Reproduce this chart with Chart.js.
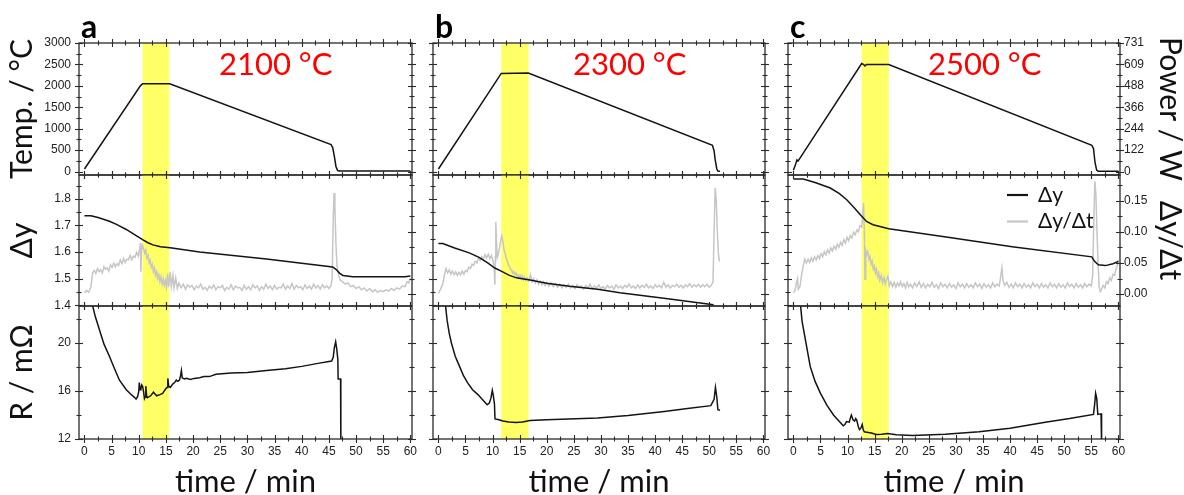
<!DOCTYPE html>
<html>
<head>
<meta charset="utf-8">
<script src="https://cdn.jsdelivr.net/npm/chart.js@4.4.1/dist/chart.umd.min.js"></script>
<style>
  html, body { margin: 0; padding: 0; background: #fff; overflow: hidden; }
  #fig { position: relative; width: 1184px; height: 495px; }
  #fig canvas { position: absolute; }
</style>
</head>
<body>
<div id="fig"></div>
<script>
// ---- data: [time / min, value] ----
const tempA = [[0,60],[10.3,2000],[10.7,2048],[15.7,2048],[45.4,630],[45.7,560],[46.0,360],[46.3,120],[46.6,25],[47.0,14],[60,14]];
const tempB = [[0,60],[10.1,2000],[10.4,2060],[11.6,2290],[16.6,2298],[50.6,615],[50.9,480],[51.1,280],[51.4,60],[51.6,15],[52.0,10]];
const tempC = [[0,30],[0.45,190],[0.65,270],[0.85,245],[12.6,2520],[13.0,2495],[13.2,2465],[13.5,2500],[17.6,2500],[55.1,613],[55.4,540],[55.7,200],[56.0,30],[56.3,8],[60,8]];

const dyA = [[0,1.737],[1.2,1.737],[2.5,1.73],[4.6,1.716],[6,1.703],[7.7,1.685],[9.3,1.665],[10.7,1.647],[11.7,1.635],[12.6,1.627],[14,1.62],[15.8,1.616],[21.2,1.60],[33.5,1.574],[45.7,1.544],[46.3,1.535],[47,1.52],[47.6,1.512],[49.4,1.507],[59,1.507],[60,1.51]];
const dyB = [[0,1.632],[0.8,1.632],[3,1.615],[5.7,1.597],[7.5,1.58],[9.1,1.559],[10.4,1.54],[11.6,1.528],[13,1.513],[14.4,1.503],[16.9,1.495],[20,1.483],[24.2,1.471],[29.4,1.46],[33.5,1.447],[42,1.425],[50.8,1.402]];
const dyC = [[0,1.875],[1.8,1.875],[4,1.862],[6.8,1.841],[8.5,1.82],[9.85,1.797],[11.3,1.765],[12.6,1.735],[13.5,1.715],[14.7,1.703],[17.6,1.688],[28.2,1.657],[40.4,1.62],[55.1,1.582],[55.6,1.565],[56.3,1.552],[57.6,1.549],[59,1.556],[60,1.565]];

const rateA = [[0,0.002],[0.4,0.006],[0.8,0.003],[1.2,0.012],[1.5,0.034],[1.8,0.038],[2.1,0.033],[2.4,0.041],[2.7,0.036],[3.0,0.039],[3.3,0.034],[3.6,0.044],[3.9,0.04],[4.2,0.042],[4.5,0.037],[4.8,0.047],[5.1,0.043],[5.4,0.05],[5.7,0.044],[6.0,0.049],[6.3,0.046],[6.6,0.055],[6.9,0.049],[7.2,0.057],[7.5,0.051],[7.8,0.056],[8.1,0.055],[8.4,0.062],[8.7,0.055],[9.0,0.061],[9.3,0.059],[9.6,0.067],[9.9,0.061],[10.15,0.072],[10.3,0.082],[10.38,0.036],[10.5,0.07],[10.7,0.078],[10.9,0.072],[11.1,0.066],[11.3,0.071],[11.5,0.058],[11.7,0.062],[11.9,0.05],[12.1,0.055],[12.3,0.043],[12.5,0.048],[12.7,0.036],[12.9,0.042],[13.1,0.03],[13.3,0.036],[13.5,0.025],[13.7,0.031],[13.9,0.02],[14.1,0.028],[14.3,0.016],[14.5,0.024],[14.7,0.014],[14.9,0.022],[15.1,0.012],[15.3,0.033],[15.5,0.011],[15.8,0.036],[16.0,0.012],[16.3,0.03],[16.5,0.01],[16.8,0.026],[17.1,0.009],[17.4,0.018],[17.8,0.01],[18.2,0.016],[18.6,0.008],[19.0,0.015],[19.4,0.011],[19.8,0.014],[20.2,0.007],[20.6,0.013],[21.0,0.01],[21.4,0.016],[21.8,0.008],[22.2,0.011],[22.6,0.006],[23.0,0.013],[23.4,0.009],[23.8,0.015],[24.2,0.007],[24.6,0.012],[25.0,0.01],[25.4,0.014],[25.8,0.006],[26.2,0.011],[26.6,0.008],[27.0,0.015],[27.4,0.007],[27.8,0.013],[28.2,0.01],[28.6,0.011],[29.0,0.006],[29.4,0.014],[29.8,0.008],[30.2,0.012],[30.6,0.007],[31.0,0.015],[31.4,0.01],[31.8,0.013],[32.2,0.006],[32.6,0.012],[33.0,0.008],[33.4,0.016],[33.8,0.009],[34.2,0.013],[34.6,0.007],[35.0,0.014],[35.4,0.008],[35.8,0.011],[36.2,0.01],[36.6,0.016],[37.0,0.008],[37.4,0.013],[37.8,0.009],[38.2,0.017],[38.6,0.008],[39.0,0.014],[39.4,0.01],[39.8,0.012],[40.2,0.007],[40.6,0.015],[41.0,0.009],[41.4,0.013],[41.8,0.008],[42.2,0.016],[42.6,0.01],[43.0,0.014],[43.4,0.008],[43.8,0.015],[44.2,0.01],[44.6,0.013],[45.0,0.009],[45.4,0.014],[45.6,0.025],[45.8,0.12],[45.95,0.162],[46.1,0.14],[46.3,0.08],[46.5,0.045],[46.8,0.03],[47.1,0.022],[47.5,0.02],[48,0.016],[48.5,0.018],[49,0.012],[49.5,0.014],[50,0.009],[50.5,0.012],[51,0.007],[51.5,0.01],[52,0.005],[52.5,0.009],[53,0.004],[53.5,0.007],[54,0.003],[54.5,0.006],[55,0.004],[55.5,0.007],[56,0.005],[56.5,0.009],[57,0.006],[57.5,0.01],[58,0.008],[58.5,0.013],[59,0.012],[59.4,0.02],[59.7,0.018],[60,0.026]];
const rateB = [[0,0.001],[0.4,0.008],[0.8,0.016],[1.1,0.03],[1.4,0.041],[1.7,0.034],[2.0,0.039],[2.3,0.032],[2.6,0.037],[2.9,0.031],[3.2,0.036],[3.5,0.03],[3.8,0.035],[4.1,0.031],[4.4,0.037],[4.7,0.032],[5.0,0.038],[5.3,0.036],[5.6,0.043],[5.9,0.041],[6.2,0.048],[6.5,0.046],[6.8,0.053],[7.1,0.05],[7.4,0.058],[7.7,0.054],[8.0,0.06],[8.3,0.056],[8.6,0.063],[8.9,0.058],[9.2,0.064],[9.5,0.057],[9.8,0.062],[10.1,0.052],[10.3,0.04],[10.42,0.015],[10.5,0.06],[10.6,0.116],[10.7,0.09],[10.85,0.058],[11.05,0.064],[11.3,0.075],[11.55,0.088],[11.7,0.093],[11.9,0.084],[12.1,0.072],[12.3,0.066],[12.5,0.058],[12.7,0.054],[12.9,0.047],[13.1,0.045],[13.3,0.04],[13.5,0.039],[13.7,0.034],[13.9,0.036],[14.1,0.031],[14.3,0.034],[14.5,0.028],[14.7,0.031],[14.9,0.026],[15.1,0.03],[15.3,0.025],[15.5,0.029],[15.7,0.023],[15.9,0.027],[16.1,0.022],[16.4,0.026],[16.7,0.021],[17.0,0.031],[17.3,0.02],[17.6,0.025],[17.9,0.018],[18.2,0.023],[18.5,0.016],[18.8,0.021],[19.1,0.015],[19.4,0.02],[19.7,0.014],[20.0,0.019],[20.4,0.013],[20.8,0.018],[21.2,0.012],[21.6,0.017],[22.0,0.011],[22.4,0.016],[22.8,0.01],[23.2,0.015],[23.6,0.011],[24.0,0.016],[24.4,0.01],[24.8,0.014],[25.2,0.009],[25.6,0.015],[26.0,0.011],[26.4,0.013],[26.8,0.008],[27.2,0.014],[27.6,0.01],[28.0,0.016],[28.4,0.009],[28.8,0.013],[29.2,0.01],[29.6,0.015],[30.0,0.009],[30.4,0.012],[30.8,0.008],[31.2,0.014],[31.6,0.01],[32.0,0.013],[32.4,0.008],[32.8,0.015],[33.2,0.01],[33.6,0.013],[34.0,0.009],[34.4,0.014],[34.8,0.011],[35.2,0.016],[35.6,0.01],[36.0,0.013],[36.4,0.009],[36.8,0.015],[37.2,0.01],[37.6,0.014],[38.0,0.011],[38.4,0.016],[38.8,0.01],[39.2,0.013],[39.6,0.009],[40.0,0.015],[40.4,0.011],[40.8,0.014],[41.2,0.01],[41.6,0.019],[42.0,0.011],[42.4,0.015],[42.8,0.01],[43.2,0.014],[43.6,0.012],[44.0,0.016],[44.4,0.011],[44.8,0.014],[45.2,0.01],[45.6,0.015],[46.0,0.012],[46.4,0.017],[46.8,0.011],[47.2,0.015],[47.6,0.012],[48.0,0.016],[48.4,0.011],[48.8,0.015],[49.2,0.012],[49.6,0.016],[50.0,0.011],[50.4,0.014],[50.7,0.02],[50.9,0.1],[51.1,0.17],[51.3,0.15],[51.5,0.1],[51.7,0.065],[51.9,0.052]];
const rateC = [[0,0.002],[0.3,0.006],[0.6,0.02],[0.75,0.025],[0.9,0.008],[1.2,0.012],[1.5,0.03],[1.8,0.045],[2.1,0.056],[2.4,0.05],[2.7,0.056],[3.0,0.051],[3.3,0.058],[3.6,0.053],[3.9,0.06],[4.2,0.055],[4.5,0.062],[4.8,0.057],[5.1,0.065],[5.4,0.06],[5.7,0.068],[6.0,0.063],[6.3,0.071],[6.6,0.066],[6.9,0.074],[7.2,0.069],[7.5,0.077],[7.8,0.072],[8.1,0.08],[8.4,0.075],[8.7,0.083],[9.0,0.078],[9.3,0.087],[9.6,0.082],[9.9,0.091],[10.2,0.086],[10.5,0.094],[10.8,0.09],[11.1,0.099],[11.4,0.095],[11.7,0.103],[12.0,0.1],[12.3,0.11],[12.6,0.108],[12.8,0.125],[12.95,0.146],[13.1,0.1],[13.22,0.024],[13.35,0.07],[13.55,0.063],[13.75,0.068],[13.95,0.055],[14.15,0.06],[14.35,0.048],[14.55,0.053],[14.75,0.04],[14.95,0.045],[15.15,0.034],[15.35,0.04],[15.55,0.028],[15.75,0.034],[15.95,0.022],[16.2,0.03],[16.45,0.018],[16.7,0.027],[16.95,0.016],[17.2,0.024],[17.45,0.029],[17.7,0.013],[18.0,0.02],[18.3,0.012],[18.6,0.019],[18.9,0.011],[19.2,0.018],[19.5,0.013],[19.8,0.02],[20.1,0.012],[20.4,0.017],[20.7,0.01],[21.0,0.019],[21.3,0.012],[21.6,0.016],[22.0,0.01],[22.4,0.018],[22.8,0.012],[23.2,0.02],[23.6,0.011],[24.0,0.017],[24.4,0.01],[24.8,0.016],[25.2,0.012],[25.6,0.019],[26.0,0.011],[26.4,0.015],[26.8,0.009],[27.2,0.018],[27.6,0.012],[28.0,0.016],[28.4,0.01],[28.8,0.017],[29.2,0.011],[29.6,0.015],[30.0,0.009],[30.4,0.018],[30.8,0.012],[31.2,0.016],[31.6,0.01],[32.0,0.017],[32.4,0.011],[32.8,0.015],[33.2,0.01],[33.6,0.018],[34.0,0.012],[34.4,0.016],[34.8,0.009],[35.2,0.017],[35.6,0.011],[36.0,0.015],[36.4,0.01],[36.8,0.018],[37.2,0.012],[37.6,0.016],[38.0,0.013],[38.3,0.03],[38.5,0.042],[38.7,0.022],[39.0,0.014],[39.4,0.019],[39.8,0.011],[40.2,0.016],[40.6,0.01],[41.0,0.018],[41.4,0.012],[41.8,0.016],[42.2,0.01],[42.6,0.017],[43.0,0.011],[43.4,0.015],[43.8,0.01],[44.2,0.018],[44.6,0.012],[45.0,0.016],[45.4,0.01],[45.8,0.017],[46.2,0.011],[46.6,0.015],[47.0,0.01],[47.4,0.018],[47.8,0.012],[48.2,0.016],[48.6,0.01],[49.0,0.017],[49.4,0.011],[49.8,0.015],[50.2,0.01],[50.6,0.018],[51.0,0.012],[51.4,0.016],[51.8,0.01],[52.2,0.017],[52.6,0.011],[53.0,0.015],[53.4,0.01],[53.8,0.017],[54.2,0.012],[54.6,0.016],[55.0,0.013],[55.25,0.03],[55.45,0.11],[55.65,0.181],[55.85,0.16],[56.05,0.1],[56.25,0.05],[56.45,0.012],[56.65,0.004],[56.9,0.008],[57.2,0.014],[57.5,0.01],[57.8,0.02],[58.1,0.017],[58.4,0.026],[58.7,0.022],[59.0,0.032],[59.3,0.03],[59.6,0.042],[59.8,0.046],[60,0.055]];

const resA = [[1.45,23.2],[2.0,22.2],[2.76,21.1],[3.6,19.9],[4.6,18.9],[5.5,17.9],[6.45,16.9],[7.7,16.1],[8.5,15.75],[9.2,15.47],[9.5,15.33],[9.8,15.55],[10.0,15.97],[10.1,16.7],[10.25,16.1],[10.4,16.17],[10.55,16.5],[10.7,16.4],[10.9,15.9],[11.05,15.36],[11.2,15.5],[11.3,16.4],[11.45,15.6],[11.6,15.45],[12.2,15.6],[12.7,15.9],[13.3,15.6],[13.9,15.7],[14.4,15.8],[15.0,16.2],[15.2,16.3],[15.35,17.05],[15.5,16.4],[15.8,16.3],[16.3,16.6],[16.6,16.7],[16.9,16.9],[17.2,16.8],[17.5,16.9],[17.7,17.3],[17.85,17.7],[18.0,17.1],[18.4,17.0],[18.8,17.05],[19.5,16.95],[20.2,17.05],[21.2,17.1],[22,17.2],[23,17.2],[24.2,17.4],[27,17.5],[30,17.55],[33.5,17.7],[37,17.85],[40,18.05],[43,18.3],[45.5,18.5],[45.8,18.8],[46.0,19.6],[46.25,20.1],[46.45,19.5],[46.65,18.6],[46.7,17.0],[47.15,17.0],[47.2,11.5]];
const resB = [[1.3,23.2],[1.6,21.9],[2.0,20.8],[2.4,20.0],[3.1,18.9],[3.9,18.05],[4.6,17.3],[5.4,16.67],[6.3,16.1],[7.3,15.7],[8.2,15.25],[9.0,14.86],[9.4,15.0],[9.7,15.4],[9.95,16.05],[10.15,15.6],[10.35,14.9],[10.45,13.67],[11.0,13.62],[11.9,13.5],[13,13.42],[14.3,13.38],[15.5,13.42],[16.9,13.55],[20,13.6],[29.4,13.75],[35,13.95],[41.7,14.3],[46,14.55],[50.3,14.78],[50.9,15.3],[51.15,16.3],[51.4,15.5],[51.6,14.44],[52,14.4]];
const resC = [[1.3,23.2],[1.6,21.8],[2.2,20.3],[3.1,18.05],[4.0,16.8],[5.0,15.8],[6.2,14.8],[7.4,14.0],[8.4,13.5],[9.2,13.1],[9.5,13.2],[9.8,13.45],[10.3,13.4],[10.55,13.8],[10.7,14.0],[11.0,13.6],[11.3,13.5],[11.5,13.7],[11.7,13.55],[12.0,13.0],[12.2,12.78],[12.5,12.95],[12.7,13.2],[12.9,12.75],[13.1,12.6],[13.8,12.55],[14.4,12.5],[15.3,12.37],[16.3,12.4],[17.4,12.45],[19,12.35],[22,12.3],[28,12.4],[34.3,12.6],[40,12.9],[46.5,13.4],[51,13.7],[55.4,14.05],[55.6,14.8],[55.8,15.8],[56.0,15.4],[56.2,14.05],[56.8,14.1],[56.9,11.5]];

// holding window (yellow band), min
const bandA = [10.7, 15.6];
const bandB = [11.6, 16.65];
const bandC = [12.6, 17.6];

const panelLetters = ['a', 'b', 'c'];
const setTemps = ['2100 °C', '2300 °C', '2500 °C'];

// tick labels
const timeTicks = [0, 5, 10, 15, 20, 25, 30, 35, 40, 45, 50, 55, 60];
const tempTicks = [0, 500, 1000, 1500, 2000, 2500, 3000];
const powerTicks = [0, 122, 244, 366, 488, 609, 731];
const dyTicks = [1.4, 1.5, 1.6, 1.7, 1.8];
const rateTicks = [0, 0.05, 0.10, 0.15];
const resTicks = [12, 16, 20];

// ---- layout ----
const colLeft = [79, 433, 788];
const colWidth = [333, 332, 332];
const rowTop = [43, 175, 306];
const rowHeight = [132, 131, 133];
const PAD = 80;

const tickFont = { family: "'Liberation Sans', Arial, sans-serif", size: 12 };
const titleFamily = 'Lato, sans-serif';
const inkColor = '#141414';
const greyColor = '#c6c6c6';

function fixSize(scale) {
  if (scale.isHorizontal()) scale.height = PAD; else scale.width = PAD;
}

function setTicks(values) {
  return scale => { scale.ticks = values.map(v => ({ value: v })); };
}

function minorOf(values, min, max) {
  const out = [];
  for (let i = 0; i < values.length - 1; i++) out.push((values[i] + values[i + 1]) / 2);
  const step = values[1] - values[0];
  if (values[0] - step / 2 >= min) out.push(values[0] - step / 2);
  if (values[values.length - 1] + step / 2 <= max) out.push(values[values.length - 1] + step / 2);
  return out;
}

const panelDecor = {
  id: 'panelDecor',
  beforeDatasetsDraw(chart, args, opts) {
    const { ctx, chartArea: a, scales: { x } } = chart;
    const x0 = x.getPixelForValue(opts.band[0]);
    const x1 = x.getPixelForValue(opts.band[1]);
    ctx.save();
    ctx.fillStyle = '#ffff66';
    ctx.fillRect(x0, a.top, x1 - x0, a.bottom - a.top);
    ctx.restore();
  },
  afterDatasetsDraw(chart, args, opts) {
    const { ctx, chartArea: a, scales } = chart;
    ctx.save();
    ctx.strokeStyle = '#2a2a2a';
    ctx.lineWidth = 1.3;
    ctx.strokeRect(a.left, a.top, a.right - a.left, a.bottom - a.top);

    const mark = (scale, values, len, side) => {
      values.forEach(v => {
        const p = Math.round(scale.getPixelForValue(v)) + 0.5;
        ctx.beginPath();
        if (side === 'top' || side === 'bottom') {
          const y = side === 'top' ? a.top : a.bottom;
          ctx.moveTo(p, y - len); ctx.lineTo(p, y + len);
        } else {
          const xx = side === 'left' ? a.left : a.right;
          ctx.moveTo(xx - len, p); ctx.lineTo(xx + len, p);
        }
        ctx.stroke();
      });
    };
    ctx.lineWidth = 1.1;
    const xs = scales.x;
    const xMaj = xs.ticks.map(t => t.value);
    const xMin = minorOf(xMaj, xs.min, xs.max);
    ['top', 'bottom'].forEach(side => { mark(xs, xMaj, 4, side); mark(xs, xMin, 2.5, side); });
    [['y', 'left'], ['y2', 'right']].forEach(([id, side]) => {
      const s = scales[id];
      const maj = s.ticks.map(t => t.value);
      mark(s, maj, 4, side);
      mark(s, minorOf(maj, s.min, s.max), 2.5, side);
    });

    if (opts.letter) {
      ctx.fillStyle = '#000';
      ctx.font = 'bold 32px ' + titleFamily;
      ctx.textBaseline = 'alphabetic';
      ctx.textAlign = 'left';
      ctx.fillText(opts.letter, a.left + 2, a.top - 5);
    }
    if (opts.label) {
      ctx.fillStyle = '#ff0000';
      ctx.font = '31px ' + titleFamily;
      ctx.textBaseline = 'alphabetic';
      ctx.textAlign = 'left';
      ctx.fillText(opts.label, a.left + 140, a.top + 32);
    }
    if (opts.legend) {
      chart.data.datasets.forEach((ds, i) => {
        const y = a.top + 20 + i * 26.5;
        ctx.strokeStyle = ds.borderColor;
        ctx.lineWidth = 2.2;
        ctx.beginPath();
        ctx.moveTo(a.left + 219, y); ctx.lineTo(a.left + 240, y);
        ctx.stroke();
        ctx.fillStyle = '#111';
        ctx.font = '21px ' + titleFamily;
        ctx.textBaseline = 'middle';
        ctx.textAlign = 'left';
        ctx.fillText(ds.label, a.left + 250, y);
      });
    }
    ctx.restore();
  }
};

const temps = [tempA, tempB, tempC];
const dys = [dyA, dyB, dyC];
const rates = [rateA, rateB, rateC];
const ress = [resA, resB, resC];
const bands = [bandA, bandB, bandC];

const rowScales = [
  { y: { min: -80, max: 3000, ticks: tempTicks, title: 'Temp. / °C', fmt: v => String(v) },
    y2: { min: -80 * 731 / 3000, max: 731, ticks: powerTicks, title: 'Power / W', fmt: v => String(v) } },
  { y: { min: 1.397, max: 1.89, ticks: dyTicks, title: 'Δy', fmt: v => v.toFixed(1) },
    y2: { min: -0.019, max: 0.191, ticks: rateTicks, title: 'Δy/Δt', fmt: v => v.toFixed(2) } },
  { y: { min: 12, max: 23.08, ticks: resTicks, title: 'R / mΩ', fmt: v => String(v) },
    y2: { min: 12, max: 23.08, ticks: resTicks, title: '', fmt: v => String(v) } }
];

const asXY = pairs => pairs.map(([x, y]) => ({ x, y }));

function lineSet(label, pairs, color, axis) {
  return {
    label, data: asXY(pairs), yAxisID: axis,
    borderColor: color, borderWidth: 1.5,
    pointRadius: 0, tension: 0, fill: false
  };
}

const fig = document.getElementById('fig');

for (let row = 0; row < 3; row++) {
  for (let col = 0; col < 3; col++) {
    const canvas = document.createElement('canvas');
    canvas.width = colWidth[col] + 2 * PAD;
    canvas.height = rowHeight[row] + 2 * PAD;
    canvas.style.left = (colLeft[col] - PAD) + 'px';
    canvas.style.top = (rowTop[row] - PAD) + 'px';
    fig.appendChild(canvas);

    let datasets;
    if (row === 0) datasets = [lineSet('Temp', temps[col], inkColor, 'y')];
    else if (row === 1) datasets = [lineSet('Δy', dys[col], inkColor, 'y'), lineSet('Δy/Δt', rates[col], greyColor, 'y2')];
    else datasets = [lineSet('R', ress[col], inkColor, 'y')];

    const rs = rowScales[row];
    const yScale = (cfg, position, showLabels, showTitle) => ({
      type: 'linear', position, min: cfg.min, max: cfg.max,
      afterBuildTicks: setTicks(cfg.ticks),
      afterFit: fixSize,
      grid: { display: false, drawTicks: false },
      border: { display: false },
      ticks: {
        display: showLabels, padding: position === 'left' ? 8 : 4,
        font: tickFont, color: '#222', autoSkip: false,
        callback: v => cfg.fmt(v)
      },
      title: {
        display: showTitle, text: cfg.title, color: '#111',
        font: { family: titleFamily, size: 30, lineHeight: 1 },
        padding: { top: position === 'left' ? 8 : 15 }
      }
    });

    new Chart(canvas, {
      type: 'line',
      data: { datasets },
      plugins: [panelDecor],
      options: {
        responsive: false,
        animation: false,
        layout: { padding: { top: PAD, left: 0, right: 0, bottom: 0 } },
        scales: {
          x: {
            type: 'linear', min: -1, max: 60.3,
            afterBuildTicks: setTicks(timeTicks),
            afterFit: fixSize,
            grid: { display: false, drawTicks: false },
            border: { display: false },
            ticks: { display: row === 2, padding: 5, font: tickFont, color: '#222', autoSkip: false, maxRotation: 0 },
            title: {
              display: row === 2, text: 'time / min', color: '#111',
              font: { family: titleFamily, size: 31, lineHeight: 1 },
              padding: { bottom: 22 }
            }
          },
          y: yScale(rs.y, 'left', col === 0, col === 0),
          y2: yScale(rs.y2, 'right', col === 2 && row < 2, col === 2 && row < 2)
        },
        plugins: {
          legend: { display: false },
          tooltip: { enabled: false },
          panelDecor: {
            band: bands[col],
            letter: row === 0 ? panelLetters[col] : null,
            label: row === 0 ? setTemps[col] : null,
            legend: row === 1 && col === 2
          }
        }
      }
    });
  }
}
</script>
</body>
</html>
